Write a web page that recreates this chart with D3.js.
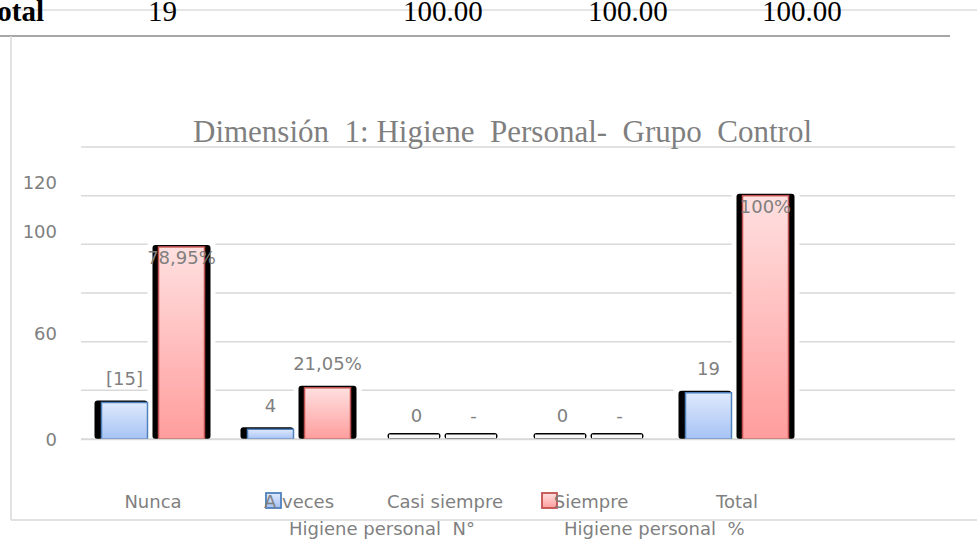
<!DOCTYPE html>
<html><head><meta charset="utf-8">
<script src="https://cdn.jsdelivr.net/npm/d3@7"></script>
<style>html,body{margin:0;padding:0;background:#fff;overflow:hidden}text{white-space:pre}</style>
</head><body>
<svg id="c" width="977" height="543"></svg>
<script>
// ---- data ----
const categories = ["Nunca", "A veces", "Casi siempre", "Siempre", "Total"];
const seriesNames = ["Higiene personal  N°", "Higiene personal  %"];
const countValues = [15, 4, 0, 0, 19];
const percentValues = [78.95, 21.05, 0, 0, 100];
const countLabels = ["[15]", "4", "0", "0", "19"];
const percentLabels = ["78,95%", "21,05%", "-", "-", "100%"];
const gridValues = [0, 20, 40, 60, 80, 100, 120];
const yTickValues = [105.5, 85.5, 43.5, 0];
const yTickLabels = ["120", "100", "60", "0"];
const tableCells = ["19", "100.00", "100.00", "100.00"];
const titleText = "Dimensión  1: Higiene  Personal-  Grupo  Control";

const svg = d3.select("#c");
const sans = "DejaVu Sans, sans-serif";
const serif = "Liberation Serif, Times New Roman, serif";
const gray = "#7f7f7f";

// gradients
const defs = svg.append("defs");
const grads = [["gBlue", "#dfe9fc", "#a6c3f5"], ["gRed", "#ffe0e0", "#ff9d9d"]];
grads.forEach(([id, a, b]) => {
  const g = defs.append("linearGradient").attr("id", id).attr("x1", 0).attr("y1", 0).attr("x2", 0).attr("y2", 1);
  g.append("stop").attr("offset", "0%").attr("stop-color", a);
  g.append("stop").attr("offset", "100%").attr("stop-color", b);
});
const faceFill = ["url(#gBlue)", "url(#gRed)"];
const faceStroke = ["#4f81bd", "#c0504d"];

// ---- table fragment at top ----
svg.append("line").attr("x1", 0).attr("x2", 977).attr("y1", 10).attr("y2", 10).attr("stroke", "#dcdcdc").attr("stroke-width", 1.5);
svg.append("line").attr("x1", 0).attr("x2", 950).attr("y1", 36).attr("y2", 36).attr("stroke", "#8a8a8a").attr("stroke-width", 1.5);
svg.append("text").attr("x", 44).attr("y", 21).attr("text-anchor", "end")
  .attr("font-family", serif).attr("font-weight", "bold").attr("font-size", 29).attr("fill", "#000").text("Total");
const cellX = d3.scaleOrdinal().domain(d3.range(tableCells.length)).range([148, 403, 588, 762]);
svg.selectAll("text.cell").data(tableCells).join("text").attr("class", "cell")
  .attr("x", (d, i) => cellX(i)).attr("y", 21)
  .attr("font-family", serif).attr("font-size", 29).attr("fill", "#000").text(d => d);

// ---- chart frame ----
svg.append("line").attr("x1", 11).attr("x2", 11).attr("y1", 36).attr("y2", 520).attr("stroke", "#d9d9d9").attr("stroke-width", 1.5);
svg.append("line").attr("x1", 11).attr("x2", 977).attr("y1", 520).attr("y2", 520).attr("stroke", "#d9d9d9").attr("stroke-width", 1.5);

// ---- scales ----
const y = d3.scaleLinear().domain([0, 120]).range([439, 147]);
const x0 = d3.scaleBand().domain(categories).range([80, 810]).padding(0);
const x1 = d3.scaleBand().domain([0, 1]).range([0, x0.bandwidth()]).paddingInner(0.193).paddingOuter(0.377);

// gridlines
svg.append("g").selectAll("line").data(gridValues).join("line")
  .attr("x1", 81).attr("x2", 955).attr("y1", d => y(d)).attr("y2", d => y(d))
  .attr("stroke", "#d9d9d9").attr("stroke-width", 1.5);

// title
svg.append("text").attr("x", 193).attr("y", 142).attr("textLength", 619).attr("lengthAdjust", "spacingAndGlyphs")
  .attr("font-family", serif).attr("font-size", 32).attr("fill", gray).text(titleText);

// y axis labels
const yAxis = d3.axisLeft(y).tickValues(yTickValues).tickFormat((d, i) => yTickLabels[i]).tickSize(0).tickPadding(0);
const ga = svg.append("g").attr("transform", "translate(57,0)").call(yAxis);
ga.select(".domain").remove();
ga.selectAll("text").attr("font-family", sans).attr("font-size", 18).attr("fill", gray).attr("dy", "0.35em");

// ---- bars ----
const bars = [];
categories.forEach((c, ci) => {
  [countValues[ci], percentValues[ci]].forEach((v, si) => {
    bars.push({ c, si, v, label: si === 0 ? countLabels[ci] : percentLabels[ci] });
  });
});
const y0 = y(0);
function geom(d) {
  const fx = x0(d.c) + x1(d.si), fw = x1.bandwidth();
  const top = y(d.v);
  let bx, bw, by;
  if (d.v === 0) { bx = fx - 6; bw = fw + 7; by = y0 - 6; }
  else { bx = fx - 7 + (d.si === 1 ? 1 : 0); bw = fw + 7 + (d.si === 1 ? 5 : 0); by = top - 2; }
  return { fx, fw, top, bx, bw, by };
}
const gb = svg.append("g");
// white knockout around bars (gridline gaps)
gb.selectAll("rect.ko").data(bars.filter(d => d.v > 0)).join("rect").attr("class", "ko")
  .attr("x", d => geom(d).bx - 5).attr("width", d => geom(d).bw + 10)
  .attr("y", d => geom(d).by - 4).attr("height", d => y0 - 1 - (geom(d).by - 4))
  .attr("fill", "#fff");
// black shadow
gb.selectAll("rect.sh").data(bars).join("rect").attr("class", "sh")
  .attr("x", d => geom(d).bx).attr("width", d => geom(d).bw)
  .attr("y", d => geom(d).by).attr("height", d => y0 - geom(d).by)
  .attr("rx", 3).attr("fill", "#000");
// faces
gb.selectAll("rect.face").data(bars).join("rect").attr("class", "face")
  .attr("x", d => d.v === 0 ? geom(d).bx + 1.5 : geom(d).fx)
  .attr("width", d => d.v === 0 ? geom(d).bw - 3 : geom(d).fw)
  .attr("y", d => d.v === 0 ? y0 - 4.5 : geom(d).top)
  .attr("height", d => d.v === 0 ? 4 : y0 - geom(d).top)
  .attr("fill", d => d.v === 0 ? "#f7f7f7" : faceFill[d.si])
  .attr("stroke", d => d.v === 0 ? "none" : faceStroke[d.si])
  .attr("stroke-width", 1.5);
// baseline on top
svg.append("line").attr("x1", 81).attr("x2", 955).attr("y1", y0 + 0.5).attr("y2", y0 + 0.5)
  .attr("stroke", "#d9d9d9").attr("stroke-width", 1.5);

// data labels
svg.append("g").selectAll("text").data(bars).join("text")
  .attr("x", d => geom(d).fx + geom(d).fw / 2)
  .attr("y", d => d.v > 50 ? y(d.v) + 17 : y(d.v) - 17.5)
  .attr("text-anchor", "middle").attr("font-family", sans).attr("font-size", 18).attr("fill", gray)
  .text(d => d.label);

// legend (as in reference: squares in the category row, names below)
const legSq = d3.scaleOrdinal().domain([0, 1]).range([266, 542]);
const legTx = d3.scaleOrdinal().domain([0, 1]).range([289, 564]);
const lg = svg.append("g");
lg.selectAll("rect").data(seriesNames).join("rect")
  .attr("x", (d, i) => legSq(i)).attr("y", 493).attr("width", 15).attr("height", 15)
  .attr("fill", (d, i) => faceFill[i]).attr("stroke", (d, i) => faceStroke[i]).attr("stroke-width", 1.8);
lg.selectAll("text").data(seriesNames).join("text")
  .attr("x", (d, i) => legTx(i)).attr("y", 535)
  .attr("font-family", sans).attr("font-size", 18).attr("fill", gray).text(d => d);

// category labels (drawn over the legend squares, as in the reference)
svg.append("g").selectAll("text").data(categories).join("text")
  .attr("x", d => x0(d) + x0.bandwidth() / 2).attr("y", 508)
  .attr("text-anchor", "middle").attr("font-family", sans).attr("font-size", 18).attr("fill", gray)
  .text(d => d);
</script>
</body></html>
